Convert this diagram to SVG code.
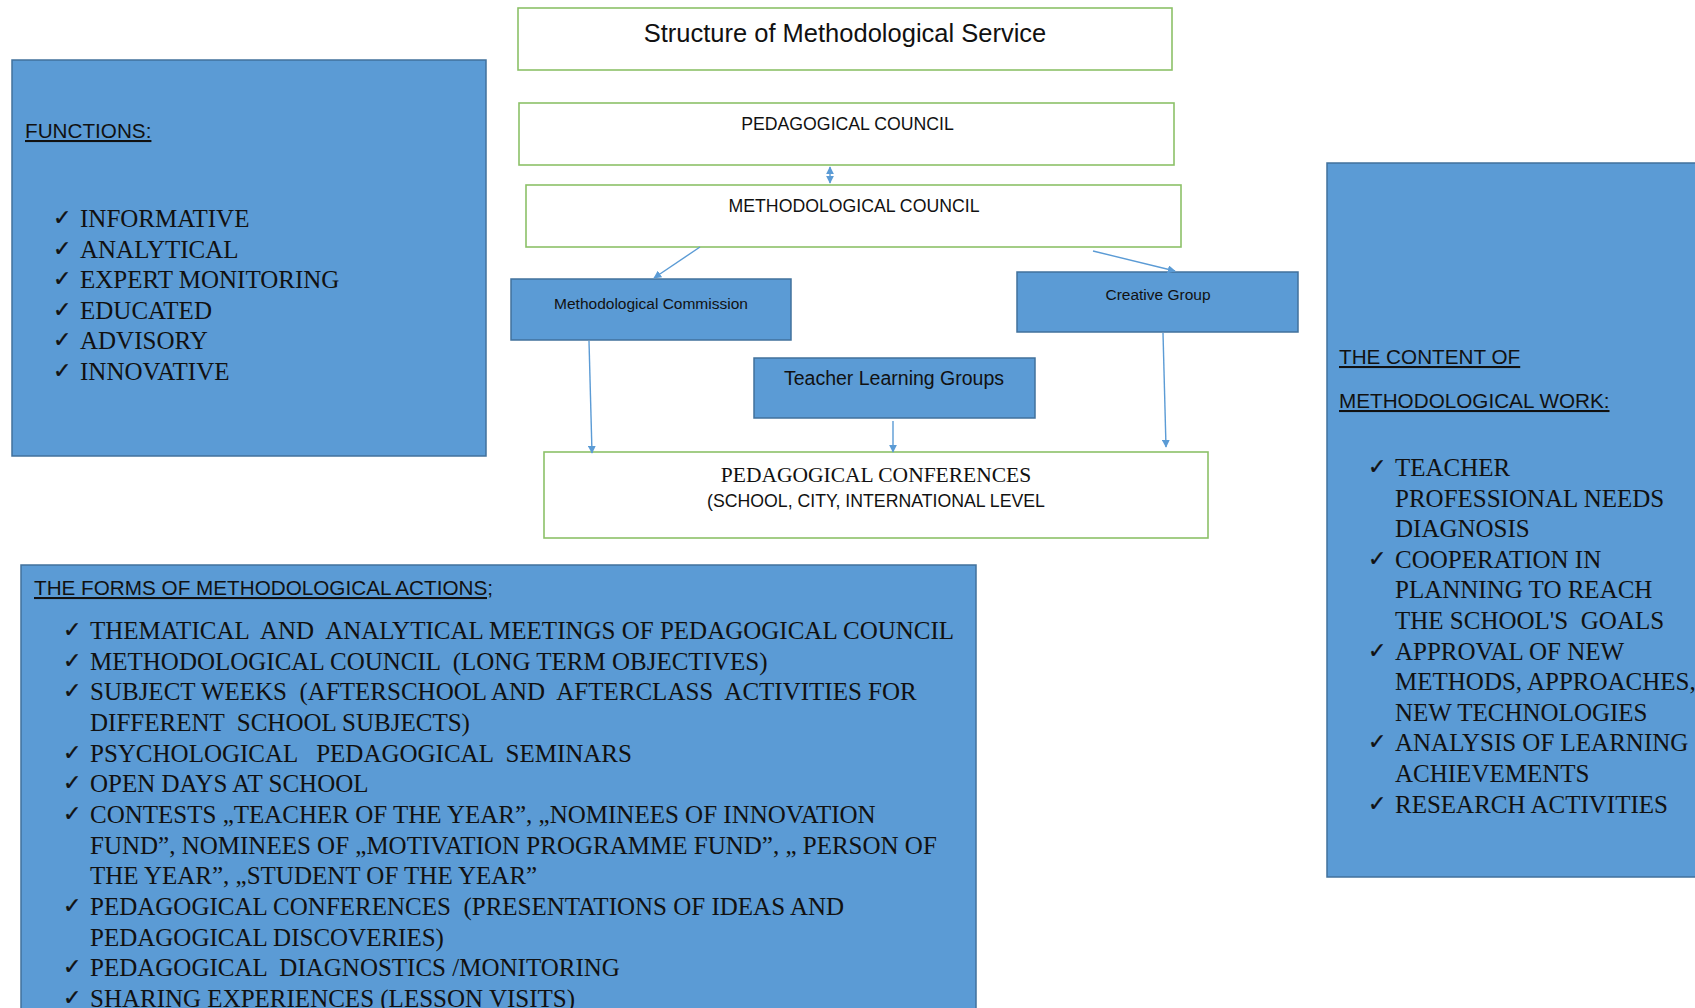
<svg xmlns="http://www.w3.org/2000/svg" width="1695" height="1008" viewBox="0 0 1695 1008">
<defs>
<style>
.gbox{fill:#ffffff;stroke:#8cc168;stroke-width:1.6}
.bbox{fill:#5b9bd5;stroke:#41719c;stroke-width:1.5}
.sans{font-family:"Liberation Sans",Arial,sans-serif;fill:#111}
.serif{font-family:"Liberation Serif","Times New Roman",serif;fill:#111;font-size:25px}
.chk{font-family:"DejaVu Sans",sans-serif;fill:#111;font-size:22px;stroke:#111;stroke-width:0.4}
.head{font-family:"Liberation Sans",Arial,sans-serif;fill:#111;font-size:20.7px;text-decoration:underline}
.conn{fill:none;stroke:#5b9bd5;stroke-width:1.4}
</style>
<marker id="ah" viewBox="0 0 10 10" refX="9" refY="5" markerWidth="8" markerHeight="8" markerUnits="userSpaceOnUse" orient="auto-start-reverse">
<path d="M0,0 L10,5 L0,10 z" fill="#5b9bd5"/>
</marker>
</defs>
<rect width="1695" height="1008" fill="#ffffff"/>

<g id="functions">
<rect class="bbox" x="12" y="60" width="474" height="396"/>
<text class="head" x="25" y="138">FUNCTIONS:</text>
<text class="chk" x="53" y="225">✓</text><text class="serif" x="80" y="227">INFORMATIVE</text>
<text class="chk" x="53" y="255.6">✓</text><text class="serif" x="80" y="257.6">ANALYTICAL</text>
<text class="chk" x="53" y="286.2">✓</text><text class="serif" x="80" y="288.2">EXPERT MONITORING</text>
<text class="chk" x="53" y="316.8">✓</text><text class="serif" x="80" y="318.8">EDUCATED</text>
<text class="chk" x="53" y="347.4">✓</text><text class="serif" x="80" y="349.4">ADVISORY</text>
<text class="chk" x="53" y="378">✓</text><text class="serif" x="80" y="380">INNOVATIVE</text>
</g>

<g id="title">
<rect class="gbox" x="518" y="8" width="654" height="62"/>
<text class="sans" x="845" y="42" font-size="25.5" text-anchor="middle">Structure of Methodological Service</text>
</g>

<g id="pedagogical-council">
<rect class="gbox" x="519" y="103" width="655" height="62"/>
<text class="sans" x="847.5" y="130" font-size="17.7" text-anchor="middle">PEDAGOGICAL COUNCIL</text>
</g>

<g id="methodological-council">
<rect class="gbox" x="526" y="185" width="655" height="62"/>
<text class="sans" x="854" y="212" font-size="17.7" text-anchor="middle">METHODOLOGICAL COUNCIL</text>
</g>

<g id="methodological-commission">
<rect class="bbox" x="511" y="279" width="280" height="61"/>
<text class="sans" x="651" y="309" font-size="15.5" text-anchor="middle">Methodological Commission</text>
</g>

<g id="creative-group">
<rect class="bbox" x="1017" y="272" width="281" height="60"/>
<text class="sans" x="1158" y="300" font-size="15.5" text-anchor="middle">Creative Group</text>
</g>

<g id="teacher-learning-groups">
<rect class="bbox" x="754" y="358" width="281" height="60"/>
<text class="sans" x="894" y="385" font-size="19.5" text-anchor="middle">Teacher Learning Groups</text>
</g>

<g id="pedagogical-conferences">
<rect class="gbox" x="544" y="452" width="664" height="86"/>
<text class="serif" x="876" y="482" style="font-size:21.5px" text-anchor="middle">PEDAGOGICAL CONFERENCES</text>
<text class="sans" x="876" y="507" font-size="17.7" text-anchor="middle">(SCHOOL, CITY, INTERNATIONAL LEVEL</text>
</g>

<g id="content">
<rect class="bbox" x="1327" y="163" width="383" height="714"/>
<text class="head" x="1339" y="364">THE CONTENT OF</text>
<text class="head" x="1339" y="408">METHODOLOGICAL WORK:</text>
<text class="chk" x="1368" y="474">✓</text><text class="serif" x="1395" y="476">TEACHER</text>
<text class="serif" x="1395" y="506.6">PROFESSIONAL NEEDS</text>
<text class="serif" x="1395" y="537.2">DIAGNOSIS</text>
<text class="chk" x="1368" y="565.8">✓</text><text class="serif" x="1395" y="567.8">COOPERATION IN</text>
<text class="serif" x="1395" y="598.4">PLANNING TO REACH</text>
<text class="serif" x="1395" y="629" xml:space="preserve">THE SCHOOL'S  GOALS</text>
<text class="chk" x="1368" y="657.6">✓</text><text class="serif" x="1395" y="659.6">APPROVAL OF NEW</text>
<text class="serif" x="1395" y="690.2">METHODS, APPROACHES,</text>
<text class="serif" x="1395" y="720.8">NEW TECHNOLOGIES</text>
<text class="chk" x="1368" y="749.4">✓</text><text class="serif" x="1395" y="751.4">ANALYSIS OF LEARNING</text>
<text class="serif" x="1395" y="782">ACHIEVEMENTS</text>
<text class="chk" x="1368" y="810.6">✓</text><text class="serif" x="1395" y="812.6">RESEARCH ACTIVITIES</text>
</g>

<g id="forms">
<rect class="bbox" x="21" y="565" width="955" height="460"/>
<text class="head" x="34" y="595">THE FORMS OF METHODOLOGICAL ACTIONS;</text>
<text class="chk" x="63" y="637">✓</text><text class="serif" x="90" y="639" xml:space="preserve">THEMATICAL  AND  ANALYTICAL MEETINGS OF PEDAGOGICAL COUNCIL</text>
<text class="chk" x="63" y="667.7">✓</text><text class="serif" x="90" y="669.7" xml:space="preserve">METHODOLOGICAL COUNCIL  (LONG TERM OBJECTIVES)</text>
<text class="chk" x="63" y="698.3">✓</text><text class="serif" x="90" y="700.3" xml:space="preserve">SUBJECT WEEKS  (AFTERSCHOOL AND  AFTERCLASS  ACTIVITIES FOR</text>
<text class="serif" x="90" y="731" xml:space="preserve">DIFFERENT  SCHOOL SUBJECTS)</text>
<text class="chk" x="63" y="759.7">✓</text><text class="serif" x="90" y="761.7" xml:space="preserve">PSYCHOLOGICAL   PEDAGOGICAL  SEMINARS</text>
<text class="chk" x="63" y="790.3">✓</text><text class="serif" x="90" y="792.3">OPEN DAYS AT SCHOOL</text>
<text class="chk" x="63" y="821">✓</text><text class="serif" x="90" y="823">CONTESTS „TEACHER OF THE YEAR”, „NOMINEES OF INNOVATION</text>
<text class="serif" x="90" y="853.7">FUND”, NOMINEES OF „MOTIVATION PROGRAMME FUND”, „ PERSON OF</text>
<text class="serif" x="90" y="884.3">THE YEAR”, „STUDENT OF THE YEAR”</text>
<text class="chk" x="63" y="913">✓</text><text class="serif" x="90" y="915" xml:space="preserve">PEDAGOGICAL CONFERENCES  (PRESENTATIONS OF IDEAS AND</text>
<text class="serif" x="90" y="945.7">PEDAGOGICAL DISCOVERIES)</text>
<text class="chk" x="63" y="974.3">✓</text><text class="serif" x="90" y="976.3" xml:space="preserve">PEDAGOGICAL  DIAGNOSTICS /MONITORING</text>
<text class="chk" x="63" y="1005">✓</text><text class="serif" x="90" y="1007">SHARING EXPERIENCES (LESSON VISITS)</text>
</g>

<g id="connectors">
<line class="conn" x1="830" y1="167" x2="830" y2="183" marker-start="url(#ah)" marker-end="url(#ah)"/>
<line class="conn" x1="700" y1="247" x2="654" y2="278" marker-end="url(#ah)"/>
<line class="conn" x1="1093" y1="251" x2="1175" y2="271" marker-end="url(#ah)"/>
<line class="conn" x1="589" y1="341" x2="592" y2="453" marker-end="url(#ah)"/>
<line class="conn" x1="893" y1="421" x2="893" y2="452" marker-end="url(#ah)"/>
<line class="conn" x1="1163" y1="333" x2="1166" y2="447" marker-end="url(#ah)"/>
</g>
</svg>
